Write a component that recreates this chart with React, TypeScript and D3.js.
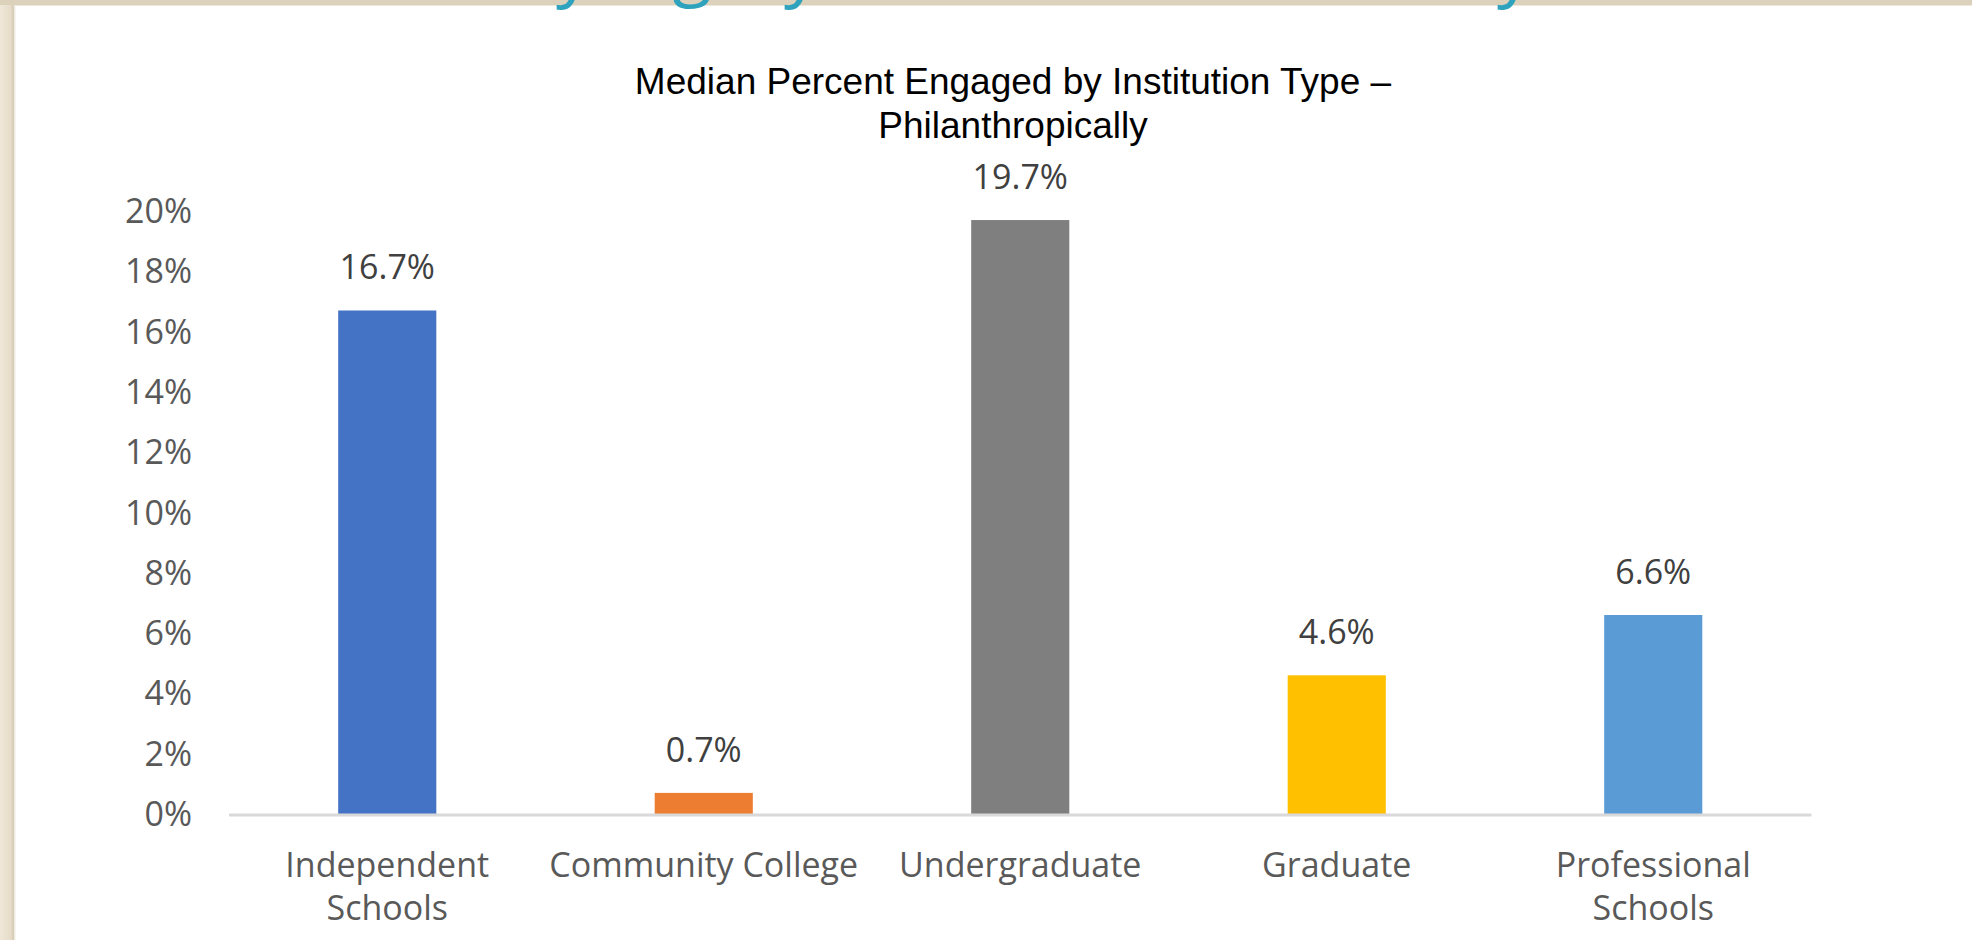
import React from "react";
import * as d3 from "d3";

const categories = ["Independent Schools", "Community College", "Undergraduate", "Graduate", "Professional Schools"];
const categoryLines = [["Independent", "Schools"], ["Community College"], ["Undergraduate"], ["Graduate"], ["Professional", "Schools"]];
const values = [16.7, 0.7, 19.7, 4.6, 6.6];
const valueLabels = ["16.7%", "0.7%", "19.7%", "4.6%", "6.6%"];
const barColors = ["#4472C4", "#ED7D31", "#7F7F7F", "#FFC000", "#5B9BD5"];
const yTicks = [0, 2, 4, 6, 8, 10, 12, 14, 16, 18, 20];
const titleLines = ["Median Percent Engaged by Institution Type –", "Philanthropically"];

const W = 1972;
const H = 940;
const LABEL_FONT = "'Open Sans', 'DejaVu Sans', sans-serif";

export default function App() {
  const x = d3.scaleBand<string>().domain(categories).range([229, 1811.5]).paddingInner(0.69).paddingOuter(0.345);
  const y = d3.scaleLinear().domain([0, 20]).range([814, 211]);
  const fmt = (t: number) => `${t}%`;
  const cx = (c: string) => (x(c) as number) + x.bandwidth() / 2;

  return (
    <div style={{ position: "fixed", left: 0, top: 0, width: W, height: H, overflow: "hidden" }}>
      <svg width={W} height={H} style={{ display: "block" }}>
        <defs>
          <linearGradient id="leftBand" x1="0" x2="1" y1="0" y2="0">
            <stop offset="0" stopColor="#efe7d8" />
            <stop offset="0.75" stopColor="#e6dcc9" />
            <stop offset="1" stopColor="#d5c9b2" />
          </linearGradient>
        </defs>
        <rect x={0} y={0} width={W} height={H} fill="#ffffff" />
        <rect x={0} y={0} width={14} height={H} fill="url(#leftBand)" />
        <rect x={0} y={0} width={W} height={5} fill="#dcd1bb" />
        <rect x={14} y={5} width={W} height={1} fill="#eee8dc" />
        <rect x={14} y={5} width={1.5} height={H} fill="#f1ece3" />

        {/* cut-off slide heading above the chart (only descenders visible) */}
        <g fill="#2fa3bd" fontFamily="'Open Sans', sans-serif" fontSize={72} textAnchor="middle">
          <text x={574} y={-7}>y</text>
          <text x={692} y={-8}>g</text>
          <text x={802} y={-7}>y</text>
          <text x={1515} y={-7}>y</text>
        </g>

        {/* title */}
        <g fontFamily="'Liberation Sans', Arial, sans-serif" fontSize={37} fill="#000000" textAnchor="middle">
          {titleLines.map((line, i) => (
            <text key={i} x={1013} y={94 + i * 44}>{line}</text>
          ))}
        </g>

        {/* y tick labels */}
        <g fontFamily={LABEL_FONT} fontSize={34} fill="#595959" textAnchor="end">
          {yTicks.map((t) => (
            <text key={t} x={192} y={y(t) + 12}>{fmt(t)}</text>
          ))}
        </g>

        {/* bars */}
        {categories.map((c, i) => (
          <rect key={c} x={x(c)} y={y(values[i])} width={x.bandwidth()} height={y(0) - y(values[i])} fill={barColors[i]} />
        ))}

        {/* axis line */}
        <line x1={229} x2={1811.5} y1={y(0) + 1} y2={y(0) + 1} stroke="#d9d9d9" strokeWidth={3} />

        {/* value labels */}
        <g fontFamily={LABEL_FONT} fontSize={34} fill="#404040" textAnchor="middle">
          {categories.map((c, i) => (
            <text key={c} x={cx(c)} y={y(values[i]) - 31}>{valueLabels[i]}</text>
          ))}
        </g>

        {/* category labels */}
        <g fontFamily={LABEL_FONT} fontSize={34} fill="#595959" textAnchor="middle">
          {categories.map((c, i) => (
            <text key={c} x={cx(c)} y={877}>
              {categoryLines[i].map((ln, j) => (
                <tspan key={j} x={cx(c)} dy={j === 0 ? 0 : 43}>{ln}</tspan>
              ))}
            </text>
          ))}
        </g>
      </svg>
    </div>
  );
}
